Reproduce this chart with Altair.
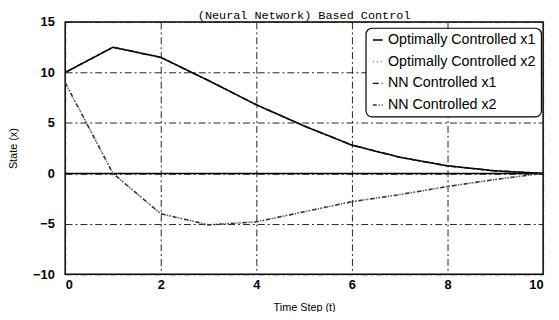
import altair as alt
import pandas as pd

t = [0, 1, 2, 3, 4, 5, 6, 7, 8, 9, 10]
opt_x1 = [10.0, 12.5, 11.5, 9.2, 6.8, 4.7, 2.8, 1.6, 0.75, 0.25, 0.0]
opt_x2 = [9.0, 0.0, -4.0, -5.1, -4.8, -3.8, -2.8, -2.1, -1.3, -0.6, 0.0]
nn_x1 = [10.0, 12.5, 11.5, 9.2, 6.8, 4.7, 2.8, 1.6, 0.75, 0.25, 0.0]
nn_x2 = [9.0, 0.0, -4.0, -5.1, -4.8, -3.8, -2.8, -2.1, -1.3, -0.6, 0.0]
series_names = ["Optimally Controlled x1", "Optimally Controlled x2",
                "NN Controlled x1", "NN Controlled x2"]
x_ticks = [0, 2, 4, 6, 8, 10]
y_ticks = [-10, -5, 0, 5, 10, 15]
title_text = ["(Neural Network) Based Control"]

rows = []
for name, vals in zip(series_names, [opt_x1, opt_x2, nn_x1, nn_x2]):
    for ti, v in zip(t, vals):
        rows.append({"t": ti, "x": v, "series": name})
df = pd.DataFrame(rows)

xs = alt.Scale(domain=[0, 10], nice=False)
ys = alt.Scale(domain=[-10, 15], nice=False)

lines = alt.Chart(df).mark_line(strokeWidth=1.6).encode(
    x=alt.X("t:Q", scale=xs,
            axis=alt.Axis(values=x_ticks, title="Time Step (t)", format="d")),
    y=alt.Y("x:Q", scale=ys,
            axis=alt.Axis(values=y_ticks, title="State (x)", format="d")),
    color=alt.Color("series:N", sort=series_names,
                    scale=alt.Scale(domain=series_names,
                                    range=["#000000", "#777777", "#111111", "#333333"]),
                    legend=alt.Legend(title=None)),
    strokeDash=alt.StrokeDash("series:N", sort=series_names,
                              scale=alt.Scale(domain=series_names,
                                              range=[[1, 0], [1, 3], [6, 3, 2, 3], [4, 2, 1, 2, 1, 2]]),
                              legend=alt.Legend(title=None)),
    order=alt.Order("t:Q"),
)

zero = alt.Chart(pd.DataFrame({"y": [0]})).mark_rule(color="black", strokeWidth=1.5).encode(
    y=alt.Y("y:Q", scale=ys)
)

title_mark = alt.Chart(pd.DataFrame({"label": title_text})).mark_text(
    font="Liberation Mono", fontSize=12, color="black",
    align="center", baseline="alphabetic"
).encode(
    x=alt.value(242.5), y=alt.value(-3), text="label:N"
)

chart = alt.layer(zero, lines, title_mark).properties(
    width=485,
    height=256,
    autosize=alt.AutoSizeParams(type="none"),
    padding={"left": 58, "top": 12, "right": 8, "bottom": 36},
).configure_view(
    stroke="black", strokeWidth=1.5
).configure_axis(
    domain=False,
    ticks=False,
    grid=True,
    gridColor="#222222",
    gridDash=[7, 3, 2, 3],
    gridWidth=1,
    labelFont="Liberation Sans",
    labelFontSize=13,
    labelFontWeight="bold",
    labelColor="black",
    titleFont="Liberation Sans",
    titleFontSize=11,
    titleFontWeight="normal",
    titleColor="black",
).configure_axisY(
    labelPadding=11,
    titlePadding=14,
).configure_axisX(
    labelPadding=4,
    titlePadding=11,
).configure_legend(
    orient="none",
    legendX=305,
    legendY=6,
    padding=5,
    cornerRadius=6,
    strokeColor="black",
    strokeWidth=1.2,
    fillColor="white",
    labelFont="Liberation Sans",
    labelFontSize=14.5,
    labelColor="black",
    labelLimit=300,
    labelOffset=3,
    rowPadding=7,
    symbolType="stroke",
    symbolSize=100,
    symbolStrokeWidth=1.5,
)

chart.save("out.html", embed_options={"renderer": "svg", "actions": False})
